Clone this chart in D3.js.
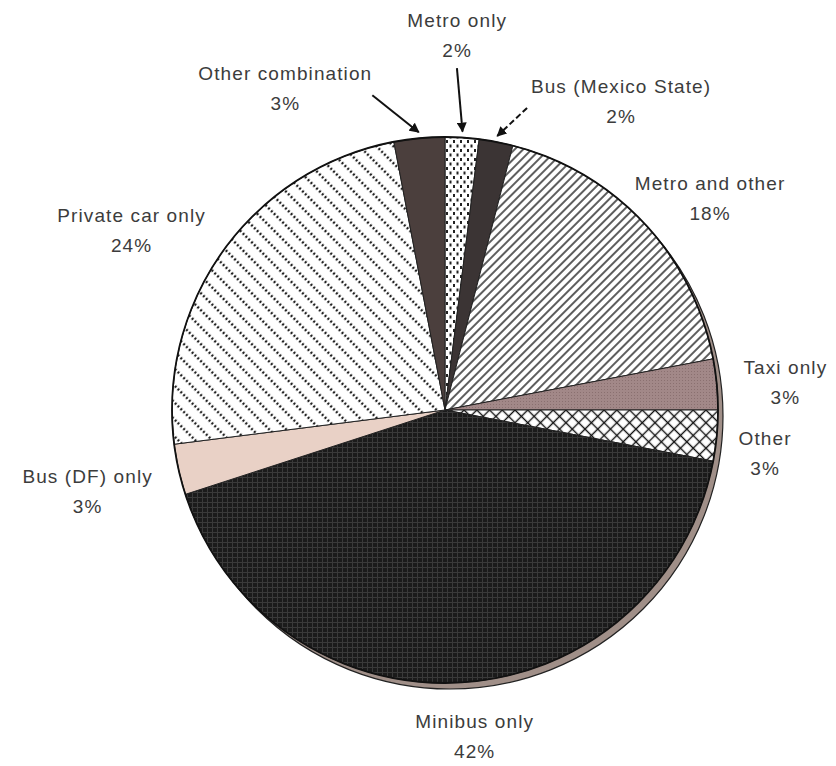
<!DOCTYPE html>
<html>
<head>
    <meta charset="utf-8">
    <script src="https://d3js.org/d3.v7.min.js"></script>
</head>
<body style="margin: 0; padding: 0; background: #fff;">
    <div id="container" style="width: 836px; height: 766px;"></div>

    <script>
        // data, clockwise from 12 o'clock
        var categories = ["Metro only", "Bus (Mexico State)", "Metro and other", "Taxi only", "Other",
            "Minibus only", "Bus (DF) only", "Private car only", "Other combination"];
        var shares = [2, 2, 18, 3, 3, 42, 3, 24, 3];
        var pctLabels = ["2%", "2%", "18%", "3%", "3%", "42%", "3%", "24%", "3%"];

        // label layout: distance from centre and angle nudge (degrees) from slice middle
        var labelRadius = [368, 350, 335, 341, 324, 334, 368, 358, 353];
        var labelNudge = [-1.7, 19.4, 5.5, 1.9, 3.5, -1.5, -1.2, -7.1, -21.5];
        // arrows for the thin slices at the top: tail angle (deg) and radius
        var arrowTails = [{ i: 0, a: 2, r: 342 }, { i: 1, a: 15.2, r: 313, dash: "6,3" }, { i: 8, a: 347, r: 323 }];

        var width = 836, height = 766;
        var cx = 445, cy = 410, radius = 273;

        var svg = d3.select("#container").append("svg")
            .attr("width", width)
            .attr("height", height);

        var defs = svg.append("defs");

        // fills
        function pat(id, w, h, bg, rot) {
            var p = defs.append("pattern").attr("id", id)
                .attr("patternUnits", "userSpaceOnUse")
                .attr("width", w).attr("height", h);
            if (rot) p.attr("patternTransform", "rotate(" + rot + ")");
            p.append("rect").attr("width", w).attr("height", h).attr("fill", bg);
            return p;
        }

        var p0 = pat("p-metro", 7, 9, "#fff");
        p0.append("rect").attr("x", 1).attr("y", 0).attr("width", 2).attr("height", 3).attr("fill", "#222");
        p0.append("rect").attr("x", 4.5).attr("y", 4.5).attr("width", 2).attr("height", 3).attr("fill", "#222");

        var p2 = pat("p-metroother", 6, 6, "#fff", -45);
        p2.append("line").attr("x1", 0).attr("x2", 6).attr("y1", 3).attr("y2", 3)
            .attr("stroke", "#555").attr("stroke-width", 1.9);

        var p3 = pat("p-taxi", 3, 3, "#a28888");
        p3.append("rect").attr("width", 1).attr("height", 1).attr("fill", "#8a7070");

        var p4 = pat("p-other", 9, 9, "#fff", 45);
        p4.append("line").attr("x1", 0).attr("x2", 9).attr("y1", 4.5).attr("y2", 4.5)
            .attr("stroke", "#111").attr("stroke-width", 1.4);
        p4.append("line").attr("y1", 0).attr("y2", 9).attr("x1", 4.5).attr("x2", 4.5)
            .attr("stroke", "#111").attr("stroke-width", 1.4);

        var p5 = pat("p-minibus", 5, 5, "#1b1b1b");
        p5.append("line").attr("x1", 0).attr("x2", 5).attr("y1", 2.5).attr("y2", 2.5)
            .attr("stroke", "#3a3a3a").attr("stroke-width", 1);
        p5.append("line").attr("y1", 0).attr("y2", 5).attr("x1", 2.5).attr("x2", 2.5)
            .attr("stroke", "#3a3a3a").attr("stroke-width", 1);

        var p7 = pat("p-car", 12, 12, "#fff", 45);
        p7.append("line").attr("x1", 0).attr("x2", 12).attr("y1", 6).attr("y2", 6)
            .attr("stroke", "#222").attr("stroke-width", 2.4).attr("stroke-dasharray", "2,2");

        var fills = ["url(#p-metro)", "#3b3434", "url(#p-metroother)", "url(#p-taxi)", "url(#p-other)",
            "url(#p-minibus)", "#e9d1c6", "url(#p-car)", "#4b3f3d"];

        var g = svg.append("g").attr("transform", "translate(" + cx + "," + cy + ")");

        // drop shadow behind the pie
        g.append("circle")
            .attr("cx", 5).attr("cy", 6).attr("r", radius)
            .attr("fill", "#a08f88")
            .attr("stroke", "#222").attr("stroke-width", 1.2);

        var pie = d3.pie().sort(null).value(d => d)(shares);
        var arc = d3.arc().innerRadius(0).outerRadius(radius);

        g.selectAll("path.slice")
            .data(pie)
            .enter().append("path")
            .attr("class", "slice")
            .attr("d", arc)
            .attr("fill", (d, i) => fills[i])
            .attr("stroke", "#222")
            .attr("stroke-width", 1);

        g.append("circle").attr("r", radius)
            .attr("fill", "none").attr("stroke", "#111").attr("stroke-width", 1.8);

        function polar(deg, r) {
            var a = deg * Math.PI / 180;
            return [r * Math.sin(a), -r * Math.cos(a)];
        }
        function midDeg(d) { return (d.startAngle + d.endAngle) / 2 * 180 / Math.PI; }

        // labels
        var labels = g.selectAll("g.label")
            .data(pie)
            .enter().append("g")
            .attr("class", "label")
            .attr("transform", (d, i) => "translate(" + polar(midDeg(d) + labelNudge[i], labelRadius[i]) + ")")
            .style("font-family", "'Liberation Sans', Arial, sans-serif")
            .style("font-size", "19px")
            .style("letter-spacing", "1.1px")
            .attr("fill", "#3c3c3c")
            .attr("text-anchor", "middle");

        labels.append("text").attr("y", -15).text((d, i) => categories[i]);
        labels.append("text").attr("y", 15).text((d, i) => pctLabels[i]);

        // arrows
        defs.append("marker").attr("id", "head")
            .attr("viewBox", "0 0 10 10").attr("refX", 9).attr("refY", 5)
            .attr("markerWidth", 5).attr("markerHeight", 5)
            .attr("orient", "auto")
            .append("path").attr("d", "M0,0 L10,5 L0,10 z").attr("fill", "#111");

        g.selectAll("line.arrow")
            .data(arrowTails)
            .enter().append("line")
            .attr("class", "arrow")
            .attr("x1", d => polar(d.a, d.r)[0])
            .attr("y1", d => polar(d.a, d.r)[1])
            .attr("x2", d => polar(midDeg(pie[d.i]), radius + 6)[0])
            .attr("y2", d => polar(midDeg(pie[d.i]), radius + 6)[1])
            .attr("stroke", "#111")
            .attr("stroke-width", 2)
            .attr("stroke-dasharray", d => d.dash || null)
            .attr("marker-end", "url(#head)");
    </script>
</body>
</html>
